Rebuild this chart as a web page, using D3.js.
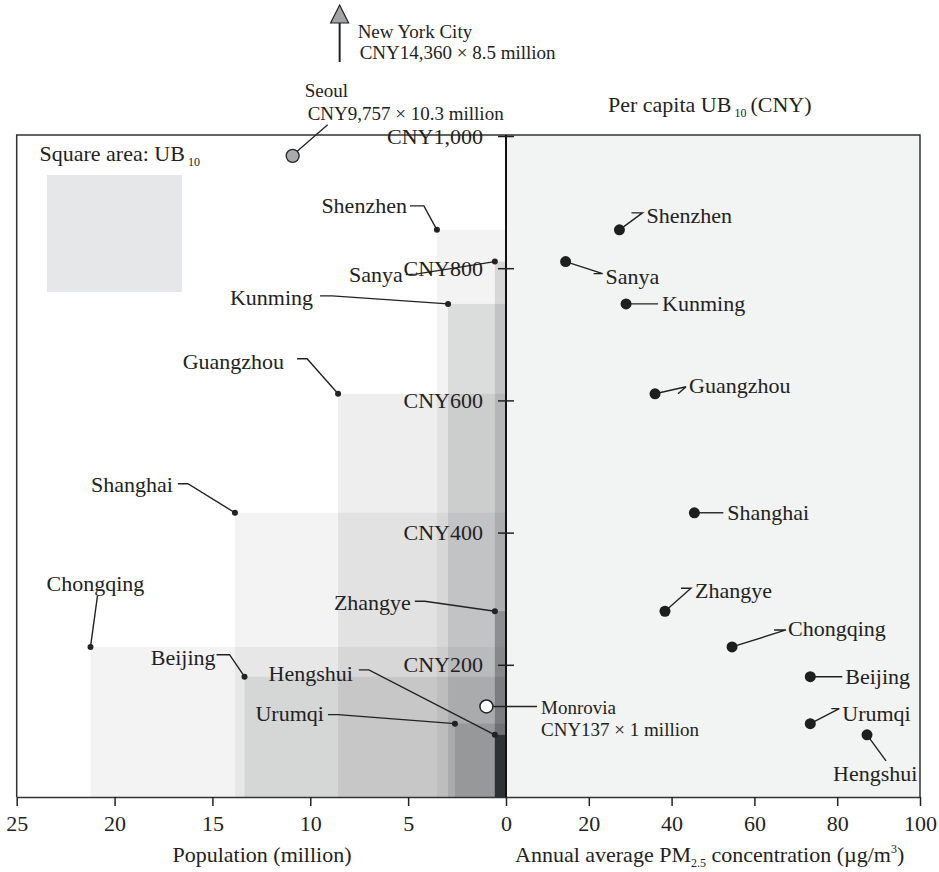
<!DOCTYPE html>
<html>
<head>
<meta charset="utf-8">
<script src="https://cdn.jsdelivr.net/npm/d3@7"></script>
<style>
  html, body { margin: 0; padding: 0; background: #fff; }
  svg { display: block; font-family: "Liberation Serif", "Times New Roman", serif; }
</style>
</head>
<body>
<svg id="chart" width="939" height="872"></svg>
<script>
// ---------------- DATA ----------------
const cities      = ["Shenzhen","Sanya","Kunming","Guangzhou","Shanghai","Zhangye","Chongqing","Beijing","Urumqi","Hengshui"];
const population  = [3.53, 0.57, 2.96, 8.58, 13.85, 0.57, 21.23, 13.36, 2.61, 0.57];   // million
const perCapitaUB = [858, 810, 746, 610, 430, 281, 227, 182, 111, 94];                 // CNY
const pm25        = [27.4, 14.4, 29.0, 36.0, 45.5, 38.4, 54.6, 73.5, 73.5, 87.2];      // µg/m3

const popTicks = [25, 20, 15, 10, 5, 0];
const pmTicks  = [20, 40, 60, 80, 100];
const ubTicks  = [200, 400, 600, 800, 1000];

// off-chart reference cities
const refCities   = ["New York City", "Seoul", "Monrovia"];
const refUB       = [14360, 9757, 137];
const refPop      = [8.5, 10.3, 1];
// Seoul is drawn as an off-scale marker near the top of the panel
const seoulMarkerPop = 10.9, seoulMarkerUB = 970;

// ---------------- STYLES / LAYOUT ----------------
const FONT = 22, SMALL = 19;
const shadeOpacity = {Chongqing:0.05, Shanghai:0.05, Beijing:0.08, Guangzhou:0.07, Shenzhen:0.05,
                      Kunming:0.10, Urumqi:0.12, Sanya:0.12, Zhangye:0.20, Hengshui:0.67};
// label layout, offsets in px relative to the dot
const leftLabels = {
  Shenzhen:  {t:[-30,-24], a:"end", l:[[-27,-24],[-13,-24]]},
  Sanya:     {t:[-92,13],  a:"end", l:[[-89,13],[-79,12.5]]},
  Kunming:   {t:[-135,-6], a:"end", l:[[-128,-8],[-116,-8]]},
  Guangzhou: {t:[-54,-32], a:"end", l:[[-41,-35],[-31,-35]]},
  Shanghai:  {t:[-62,-28], a:"end", l:[[-57,-29],[-47,-29]]},
  Chongqing: {t:[5,-63],   a:"middle", l:[[7,-51]]},
  Beijing:   {t:[-29,-19], a:"end", l:[[-28,-22],[-15,-22]]},
  Hengshui:  {t:[-142,-61],a:"end", l:[[-136,-65],[-126,-65]]},
  Urumqi:    {t:[-131,-10],a:"end", l:[[-127,-9],[-117,-9]]},
  Zhangye:   {t:[-84,-9],  a:"end", l:[[-80,-10],[-70,-10]]}
};
const rightLabels = {
  Shenzhen:  {t:[27,-14],  a:"start", l:[[12,-17],[23,-17]]},
  Sanya:     {t:[40,15],   a:"start", l:[[28,12],[37,12]]},
  Kunming:   {t:[36,0],    a:"start", l:[[32,0]]},
  Guangzhou: {t:[34,-8],   a:"start", l:[[23,0],[31,-7]]},
  Shanghai:  {t:[33,0],    a:"start", l:[[29,0]]},
  Zhangye:   {t:[30,-21],  a:"start", l:[[16,-23],[26,-23]]},
  Chongqing: {t:[56,-18],  a:"start", l:[[42,-17],[54,-17]]},
  Beijing:   {t:[35,0],    a:"start", l:[[32,0]]},
  Urumqi:    {t:[32,-10],  a:"start", l:[[21,-15],[29,-15]]},
  Hengshui:  {t:[-34,39],  a:"start", l:[[19,26]]}
};

// ---------------- SCALES ----------------
const xPop = d3.scaleLinear().domain([25, 0]).range([16.7, 506]);
const xPM  = d3.scaleLinear().domain([0, 100]).range([506, 920]);
const y    = d3.scaleLinear().domain([0, 1000]).range([797, 136]);
const yTop = 135, yBottom = 797;

const svg = d3.select("#chart");
const data = cities.map((c, i) => ({city: c, pop: population[i], ub: perCapitaUB[i], pm: pm25[i]}));

// right panel background
svg.append("rect").attr("x", xPM(0)).attr("y", yTop).attr("width", xPM(100) - xPM(0))
   .attr("height", yBottom - yTop).attr("fill", "#f2f3f3");

// left panel: rectangles (area = total UB10)
const ordered = data.slice().sort((a, b) => b.pop - a.pop);
svg.append("g").selectAll("rect").data(ordered).join("rect")
  .attr("x", d => xPop(d.pop)).attr("y", d => y(d.ub))
  .attr("width", d => xPop(0) - xPop(d.pop)).attr("height", d => y(0) - y(d.ub))
  .attr("fill", "#0e1417").attr("fill-opacity", d => shadeOpacity[d.city]);

// legend
svg.append("rect").attr("x", 47).attr("y", 175).attr("width", 135).attr("height", 117).attr("fill", "#e6e7e8");
const lg = svg.append("text").attr("x", 39.5).attr("y", 161).attr("font-size", FONT).attr("fill", "#222");
lg.append("tspan").text("Square area: UB");
lg.append("tspan").attr("font-size", 12).attr("dx", 3).attr("dy", 5).text("10");

// frame
svg.append("path").attr("d", `M${xPop(25)},${yBottom}V${yTop}H${xPM(100)}V${yBottom}`)
   .attr("fill", "none").attr("stroke", "#333").attr("stroke-width", 1.5);

// bottom axes
function styleAxis(g) {
  g.selectAll("path.domain").attr("stroke", "#333").attr("stroke-width", 1.5);
  g.selectAll(".tick line").attr("stroke", "#222").attr("stroke-width", 1.5);
  g.selectAll(".tick text").attr("font-size", FONT).attr("font-family", "Liberation Serif").attr("fill", "#222");
}
svg.append("g").attr("transform", `translate(0,${yBottom})`)
  .call(d3.axisBottom(xPop).tickValues(popTicks).tickSize(9).tickSizeOuter(0).tickPadding(9).tickFormat(d3.format("d")))
  .call(styleAxis);
svg.append("g").attr("transform", `translate(0,${yBottom})`)
  .call(d3.axisBottom(xPM).tickValues(pmTicks).tickSize(9).tickSizeOuter(0).tickPadding(9).tickFormat(d3.format("d")))
  .call(styleAxis);

// central y axis
svg.append("line").attr("x1", xPM(0)).attr("x2", xPM(0)).attr("y1", yTop).attr("y2", yBottom)
   .attr("stroke", "#111").attr("stroke-width", 2);
svg.append("g").attr("transform", `translate(${xPM(0) + 8},0)`)
  .call(d3.axisLeft(y).tickValues(ubTicks).tickSize(16).tickPadding(15).tickFormat(d => "CNY" + d3.format(",")(d)))
  .call(g => g.select("path.domain").remove())
  .call(styleAxis);

// axis titles
svg.append("text").attr("x", 262).attr("y", 862).attr("text-anchor", "middle")
   .attr("font-size", FONT).attr("fill", "#222").text("Population (million)");
const pt = svg.append("text").attr("x", 515).attr("y", 862).attr("font-size", FONT).attr("fill", "#222");
pt.append("tspan").text("Annual average PM");
pt.append("tspan").attr("font-size", 12).attr("dy", 5).text("2.5");
pt.append("tspan").attr("dy", -5).text(" concentration (\u00b5g/m");
pt.append("tspan").attr("font-size", 12).attr("dy", -9).text("3");
pt.append("tspan").attr("dy", 9).text(")");
const yt = svg.append("text").attr("x", 608).attr("y", 112).attr("font-size", FONT).attr("fill", "#222");
yt.append("tspan").text("Per capita UB");
yt.append("tspan").attr("font-size", 12).attr("dx", 3).attr("dy", 5).text("10");
yt.append("tspan").attr("dx", 4).attr("dy", -5).text("(CNY)");

// leader helper
const line = d3.line();
function leader(x, yv, pts) {
  const p = pts.map(o => [x + o[0], yv + o[1]]);
  p.push([x, yv]);
  svg.append("path").attr("d", line(p)).attr("fill", "none").attr("stroke", "#222").attr("stroke-width", 1.4);
}

// left panel labels + dots
data.forEach(d => {
  const cx = xPop(d.pop), cy = y(d.ub), L = leftLabels[d.city];
  leader(cx, cy, L.l);
  svg.append("text").attr("x", cx + L.t[0]).attr("y", cy + L.t[1]).attr("dy", "0.33em")
     .attr("text-anchor", L.a).attr("font-size", FONT).attr("fill", "#222").text(d.city);
});
svg.append("g").selectAll("circle").data(data).join("circle")
  .attr("cx", d => xPop(d.pop)).attr("cy", d => y(d.ub)).attr("r", 3).attr("fill", "#222");

// right panel labels + dots
data.forEach(d => {
  const cx = xPM(d.pm), cy = y(d.ub), L = rightLabels[d.city];
  leader(cx, cy, L.l);
  svg.append("text").attr("x", cx + L.t[0]).attr("y", cy + L.t[1]).attr("dy", "0.33em")
     .attr("text-anchor", L.a).attr("font-size", FONT).attr("fill", "#222").text(d.city);
});
svg.append("g").selectAll("circle").data(data).join("circle")
  .attr("cx", d => xPM(d.pm)).attr("cy", d => y(d.ub)).attr("r", 5.5).attr("fill", "#1e1e1e");

// reference cities
const fmtC = d3.format(",");
// New York City: arrow pointing off the chart
const nyX = xPop(refPop[0]);
svg.append("line").attr("x1", nyX).attr("x2", nyX).attr("y1", 62).attr("y2", 22).attr("stroke", "#222").attr("stroke-width", 2);
svg.append("path").attr("d", `M${nyX},5L${nyX + 9},23L${nyX - 9},23Z`).attr("fill", "#a3a4a6").attr("stroke", "#222").attr("stroke-width", 1.2);
svg.append("text").attr("x", nyX + 18).attr("y", 38).attr("font-size", SMALL).attr("fill", "#222").text(refCities[0]);
svg.append("text").attr("x", nyX + 20).attr("y", 59).attr("font-size", SMALL).attr("fill", "#222")
   .text(`CNY${fmtC(refUB[0])} \u00d7 ${refPop[0]} million`);

// Seoul
const sx = xPop(seoulMarkerPop), sy = y(seoulMarkerUB);
svg.append("line").attr("x1", sx + 4.5).attr("y1", sy - 4.5).attr("x2", sx + 35).attr("y2", sy - 31).attr("stroke", "#222").attr("stroke-width", 1.3);
svg.append("circle").attr("cx", sx).attr("cy", sy).attr("r", 6.5).attr("fill", "#a9aaac").attr("stroke", "#222").attr("stroke-width", 1.3);
svg.append("text").attr("x", sx + 12).attr("y", 97).attr("font-size", SMALL).attr("fill", "#222").text(refCities[1]);
svg.append("text").attr("x", sx + 15).attr("y", 120).attr("font-size", SMALL).attr("fill", "#222")
   .text(`CNY${fmtC(refUB[1])} \u00d7 ${refPop[1]} million`);

// Monrovia
const mx = xPop(refPop[2]), my = y(refUB[2]);
svg.append("line").attr("x1", mx + 6.5).attr("x2", 537).attr("y1", my).attr("y2", my).attr("stroke", "#222").attr("stroke-width", 1.4);
svg.append("circle").attr("cx", mx).attr("cy", my).attr("r", 6.5).attr("fill", "#fff").attr("stroke", "#222").attr("stroke-width", 1.5);
svg.append("text").attr("x", 541).attr("y", my + 8).attr("font-size", SMALL).attr("fill", "#222").text(refCities[2]);
svg.append("text").attr("x", 541).attr("y", my + 30).attr("font-size", SMALL).attr("fill", "#222")
   .text(`CNY${refUB[2]} \u00d7 ${refPop[2]} million`);
</script>
</body>
</html>
